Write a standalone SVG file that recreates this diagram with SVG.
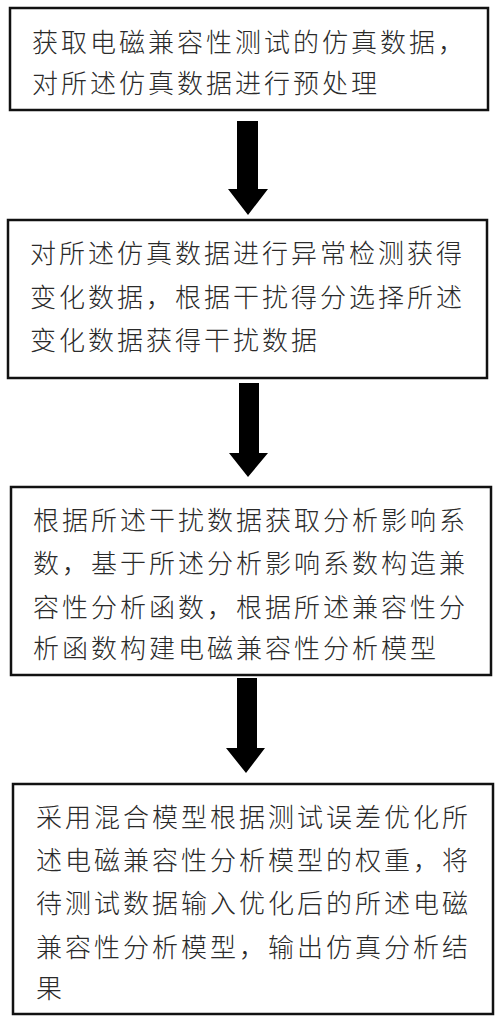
<svg xmlns="http://www.w3.org/2000/svg" width="500" height="1023" viewBox="0 0 500 1023">
<style>
.box{fill:#fff;stroke:#111;stroke-width:2.5}
.t{font-family:"Noto Sans CJK SC","Noto Sans",sans-serif;font-size:26px;font-weight:300;letter-spacing:3px;fill:#2a2a2a}
.arr{fill:#000}
</style>
<rect width="500" height="1023" fill="#fff"/>
<g id="node1">
<rect class="box" x="10" y="8" width="478" height="102"/>
<text class="t" x="32" y="52">获取电磁兼容性测试的仿真数据，</text>
<text class="t" x="32" y="93">对所述仿真数据进行预处理</text>
</g>
<g id="node2">
<rect class="box" x="8" y="220" width="479" height="158"/>
<text class="t" x="30" y="263">对所述仿真数据进行异常检测获得</text>
<text class="t" x="30" y="307">变化数据，根据干扰得分选择所述</text>
<text class="t" x="30" y="350">变化数据获得干扰数据</text>
</g>
<g id="node3">
<rect class="box" x="11" y="487" width="480" height="188"/>
<text class="t" x="33" y="530">根据所述干扰数据获取分析影响系</text>
<text class="t" x="33" y="573">数，基于所述分析影响系数构造兼</text>
<text class="t" x="33" y="617">容性分析函数，根据所述兼容性分</text>
<text class="t" x="33" y="658">析函数构建电磁兼容性分析模型</text>
</g>
<g id="node4">
<rect class="box" x="13" y="784" width="480" height="230"/>
<text class="t" x="36" y="827">采用混合模型根据测试误差优化所</text>
<text class="t" x="36" y="870">述电磁兼容性分析模型的权重，将</text>
<text class="t" x="36" y="913">待测试数据输入优化后的所述电磁</text>
<text class="t" x="36" y="957">兼容性分析模型，输出仿真分析结</text>
<text class="t" x="36" y="998">果</text>
</g>
<g id="connectors">
<polygon class="arr" points="237,121 258,121 258,189 268,189 248,215 228,189 237,189"/>
<polygon class="arr" points="239,383 259,383 259,453 268,453 248,477 229,453 239,453"/>
<polygon class="arr" points="237,678 257,678 257,748 265,748 246,773 226,748 237,748"/>
</g>
</svg>
